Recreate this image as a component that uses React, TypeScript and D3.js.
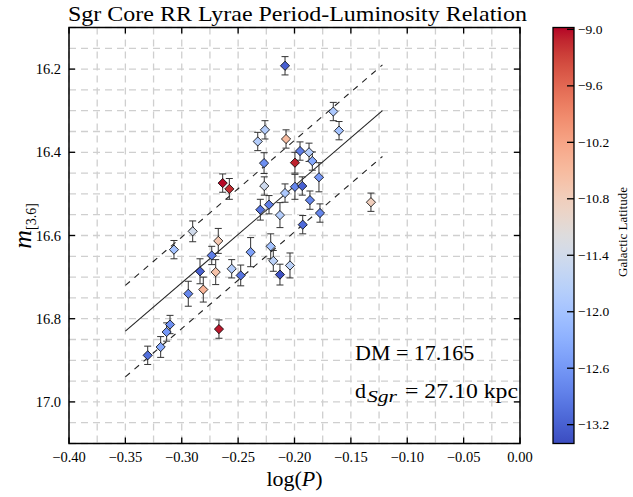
import React from 'react';
import * as d3 from 'd3';

// ---- data ----
const logP = [
  -0.2084, -0.1656, -0.1605, -0.2262, -0.2326, -0.2075, -0.2270, -0.2637, -0.2578, -0.2268,
  -0.1951, -0.1871, -0.1842, -0.1996, -0.1783, -0.1996, -0.1931, -0.2084, -0.2303, -0.2226,
  -0.2129, -0.1863, -0.1774, -0.1927, -0.1322, -0.2389, -0.2211, -0.2188, -0.2040, -0.2129,
  -0.2903, -0.3069, -0.2676, -0.2734, -0.2838, -0.2699, -0.2557, -0.2477, -0.2809, -0.2942,
  -0.2670, -0.3104, -0.3134, -0.3187, -0.3302,
];
const mag = [
  16.192, 16.302, 16.348, 16.346, 16.374, 16.368, 16.426, 16.474, 16.488, 16.481,
  16.397, 16.400, 16.421, 16.425, 16.460, 16.483, 16.481, 16.498, 16.538, 16.526,
  16.551, 16.515, 16.546, 16.574, 16.520, 16.640, 16.626, 16.661, 16.672, 16.694,
  16.590, 16.634, 16.613, 16.648, 16.686, 16.688, 16.680, 16.696, 16.730, 16.740,
  16.825, 16.814, 16.832, 16.868, 16.888,
];
const magErr = [
  0.022, 0.022, 0.022, 0.022, 0.022, 0.022, 0.025, 0.022, 0.025, 0.022,
  0.022, 0.022, 0.022, 0.025, 0.035, 0.03, 0.022, 0.022, 0.025, 0.022,
  0.03, 0.022, 0.022, 0.022, 0.022, 0.035, 0.03, 0.025, 0.03, 0.025,
  0.025, 0.022, 0.03, 0.022, 0.03, 0.03, 0.022, 0.025, 0.03, 0.03,
  0.022, 0.022, 0.022, 0.025, 0.022,
];
const latitude = [
  -13.2, -11.9, -12.0, -11.8, -11.8, -10.5, -12.7, -9.0, -9.15, -11.45,
  -12.9, -11.8, -12.4, -9.1, -12.6, -12.8, -13.2, -11.9, -13.0, -12.9,
  -11.8, -12.8, -12.8, -13.1, -10.8, -12.5, -12.0, -11.7, -11.7, -13.35,
  -11.4, -12.0, -10.7, -12.9, -13.2, -10.6, -11.8, -13.0, -10.4, -12.8,
  -9.05, -12.7, -12.6, -12.4, -13.05,
];

const fitLogP = [-0.35, -0.122];
const fitMag = [16.83, 16.30];
const fitOffset = 0.11;

const xTicks = [-0.4, -0.35, -0.3, -0.25, -0.2, -0.15, -0.1, -0.05, 0.0];
const yTicks = [16.2, 16.4, 16.6, 16.8, 17.0];
const cbTicks = [-9.0, -9.6, -10.2, -10.8, -11.4, -12.0, -12.6, -13.2];
const latRange = [-13.4, -8.98];

// matplotlib "coolwarm"
const coolwarm = [
  '#3b4cc0', '#445acc', '#4d68d7', '#5775e1', '#6282ea', '#6c8ef1', '#779af7', '#82a5fb',
  '#8db0fe', '#98b9ff', '#a3c2ff', '#aec9fd', '#b8d0f9', '#c2d5f4', '#ccd9ee', '#d5dbe6',
  '#dddddd', '#e5d8d1', '#ecd3c5', '#f1cdba', '#f5c4ac', '#f7bb9f', '#f7b194', '#f7a688',
  '#f49a7b', '#f18d6f', '#ec7f63', '#e57058', '#de604d', '#d55042', '#cb3e38', '#c0282f',
  '#b40426',
];

const W = 633;
const H = 497;
const L = 69, R = 520, T = 27.5, B = 443.5;
const CBL = 553, CBR = 574;

const serif = "'Liberation Serif', 'DejaVu Serif', serif";

export default function App() {
  const x = d3.scaleLinear().domain([-0.4, 0]).range([L, R]);
  const y = d3.scaleLinear().domain([16.1, 17.1]).range([T, B]);
  const cmap = d3.interpolateRgbBasis(coolwarm);
  const cnorm = d3.scaleLinear().domain(latRange).range([0, 1]).clamp(true);
  const color = (v: number) => cmap(cnorm(v));
  const cy = d3.scaleLinear().domain(latRange).range([B, T]);

  const fmt2 = d3.format('.2f');
  const fmt1 = d3.format('.1f');

  const gridX = d3.range(0, 17).map((i) => -0.4 + i * 0.025);
  const gridY = d3.range(0, 21).map((i) => 16.1 + i * 0.05);

  const line = d3.line<[number, number]>().x((d) => x(d[0])).y((d) => y(d[1]));
  const fitPts = (off: number): [number, number][] =>
    fitLogP.map((p, i) => [p, fitMag[i] + off] as [number, number]);

  const diamond = (cx: number, cyy: number, r: number) =>
    `M${cx},${cyy - r}L${cx + r},${cyy}L${cx},${cyy + r}L${cx - r},${cyy}Z`;

  const gradStops = d3.range(0, 33).map((i) => i / 32);

  return (
    <svg width={W} height={H} style={{ position: 'absolute', left: 0, top: 0, background: '#fff' }}
      fontFamily={serif}>
      <defs>
        <linearGradient id="cbgrad" x1="0" y1="1" x2="0" y2="0">
          {gradStops.map((t, i) => (
            <stop key={i} offset={t} stopColor={cmap(t)} />
          ))}
        </linearGradient>
        <clipPath id="plotclip">
          <rect x={L} y={T} width={R - L} height={B - T} />
        </clipPath>
      </defs>
      <rect x={0} y={0} width={W} height={H} fill="#fff" />

      {/* grid */}
      <g stroke="#cfcfcf" strokeWidth={1.3} strokeDasharray="7,5" fill="none">
        {gridX.map((g, i) => (
          <line key={'gx' + i} x1={x(g)} x2={x(g)} y1={T} y2={B} />
        ))}
        {gridY.map((g, i) => (
          <line key={'gy' + i} x1={L} x2={R} y1={y(g)} y2={y(g)} />
        ))}
      </g>

      {/* fit lines */}
      <g clipPath="url(#plotclip)" fill="none" stroke="#222">
        <path d={line(fitPts(0)) || ''} strokeWidth={1.1} />
        <path d={line(fitPts(-fitOffset)) || ''} strokeWidth={1.1} strokeDasharray="6,6" />
        <path d={line(fitPts(fitOffset)) || ''} strokeWidth={1.1} strokeDasharray="6,6" />
      </g>

      {/* error bars */}
      <g stroke="#333" strokeWidth={1} fill="none">
        {logP.map((p, i) => {
          const px = x(p);
          const y1 = y(mag[i] - magErr[i]);
          const y2 = y(mag[i] + magErr[i]);
          return (
            <g key={'e' + i}>
              <line x1={px} x2={px} y1={y1} y2={y2} />
              <line x1={px - 3.5} x2={px + 3.5} y1={y1} y2={y1} />
              <line x1={px - 3.5} x2={px + 3.5} y1={y2} y2={y2} />
            </g>
          );
        })}
      </g>

      {/* markers */}
      <g stroke="#000" strokeWidth={0.8}>
        {logP.map((p, i) => (
          <path key={'m' + i} d={diamond(x(p), y(mag[i]), 4.6)} fill={color(latitude[i])} />
        ))}
      </g>

      {/* frame */}
      <rect x={L} y={T} width={R - L} height={B - T} fill="none" stroke="#000" strokeWidth={1.5} />

      {/* ticks */}
      <g stroke="#000" strokeWidth={1.3}>
        {xTicks.map((t, i) => (
          <g key={'xt' + i}>
            <line x1={x(t)} x2={x(t)} y1={B} y2={B - 6} />
            <line x1={x(t)} x2={x(t)} y1={T} y2={T + 6} />
          </g>
        ))}
        {yTicks.map((t, i) => (
          <g key={'yt' + i}>
            <line x1={L} x2={L + 6} y1={y(t)} y2={y(t)} />
            <line x1={R} x2={R - 6} y1={y(t)} y2={y(t)} />
          </g>
        ))}
      </g>
      <g fontSize={14.5} fill="#000">
        {xTicks.map((t, i) => (
          <text key={'xl' + i} x={x(t)} y={B + 18} textAnchor="middle">
            {fmt2(t)}
          </text>
        ))}
        {yTicks.map((t, i) => (
          <text key={'yl' + i} x={L - 8} y={y(t) + 5} textAnchor="end">
            {fmt1(t)}
          </text>
        ))}
      </g>

      {/* axis labels */}
      <text x={(L + R) / 2} y={486} textAnchor="middle" fontSize={22}>
        log(<tspan fontStyle="italic">P</tspan>)
      </text>
      <text transform={`translate(31,226) rotate(-90)`} textAnchor="middle" fontSize={26}>
        <tspan fontStyle="italic">m</tspan>
        <tspan fontSize={14} dy={5}>[3.6]</tspan>
      </text>

      {/* title */}
      <text x={(L + R) / 2 + 3} y={21} textAnchor="middle" fontSize={22} textLength={459}
        lengthAdjust="spacingAndGlyphs">
        Sgr Core RR Lyrae Period-Luminosity Relation
      </text>

      {/* annotations */}
      <text x={355} y={360} fontSize={22}>DM = 17.165</text>
      <text x={355} y={398} fontSize={22}>d</text>
      <text x={367} y={402} fontSize={16} fontStyle="italic" textLength={30}
        lengthAdjust="spacingAndGlyphs">Sgr</text>
      <text x={405} y={398} fontSize={22} textLength={113} lengthAdjust="spacingAndGlyphs">
        = 27.10 kpc
      </text>

      {/* colorbar */}
      <rect x={CBL} y={T} width={CBR - CBL} height={B - T} fill="url(#cbgrad)" />
      <rect x={CBL} y={T} width={CBR - CBL} height={B - T} fill="none" stroke="#000" strokeWidth={1.3} />
      <g stroke="#000" strokeWidth={1.3}>
        {cbTicks.map((t, i) => (
          <line key={'ct' + i} x1={CBR} x2={CBR - 7} y1={cy(t)} y2={cy(t)} />
        ))}
      </g>
      <g fontSize={13.5} fill="#000">
        {cbTicks.map((t, i) => (
          <text key={'cl' + i} x={CBR + 4} y={cy(t) + 4.5}>
            {fmt1(t)}
          </text>
        ))}
      </g>
      <text transform={`translate(627,232) rotate(-90)`} textAnchor="middle" fontSize={13}>
        Galactic Latitude
      </text>
    </svg>
  );
}
